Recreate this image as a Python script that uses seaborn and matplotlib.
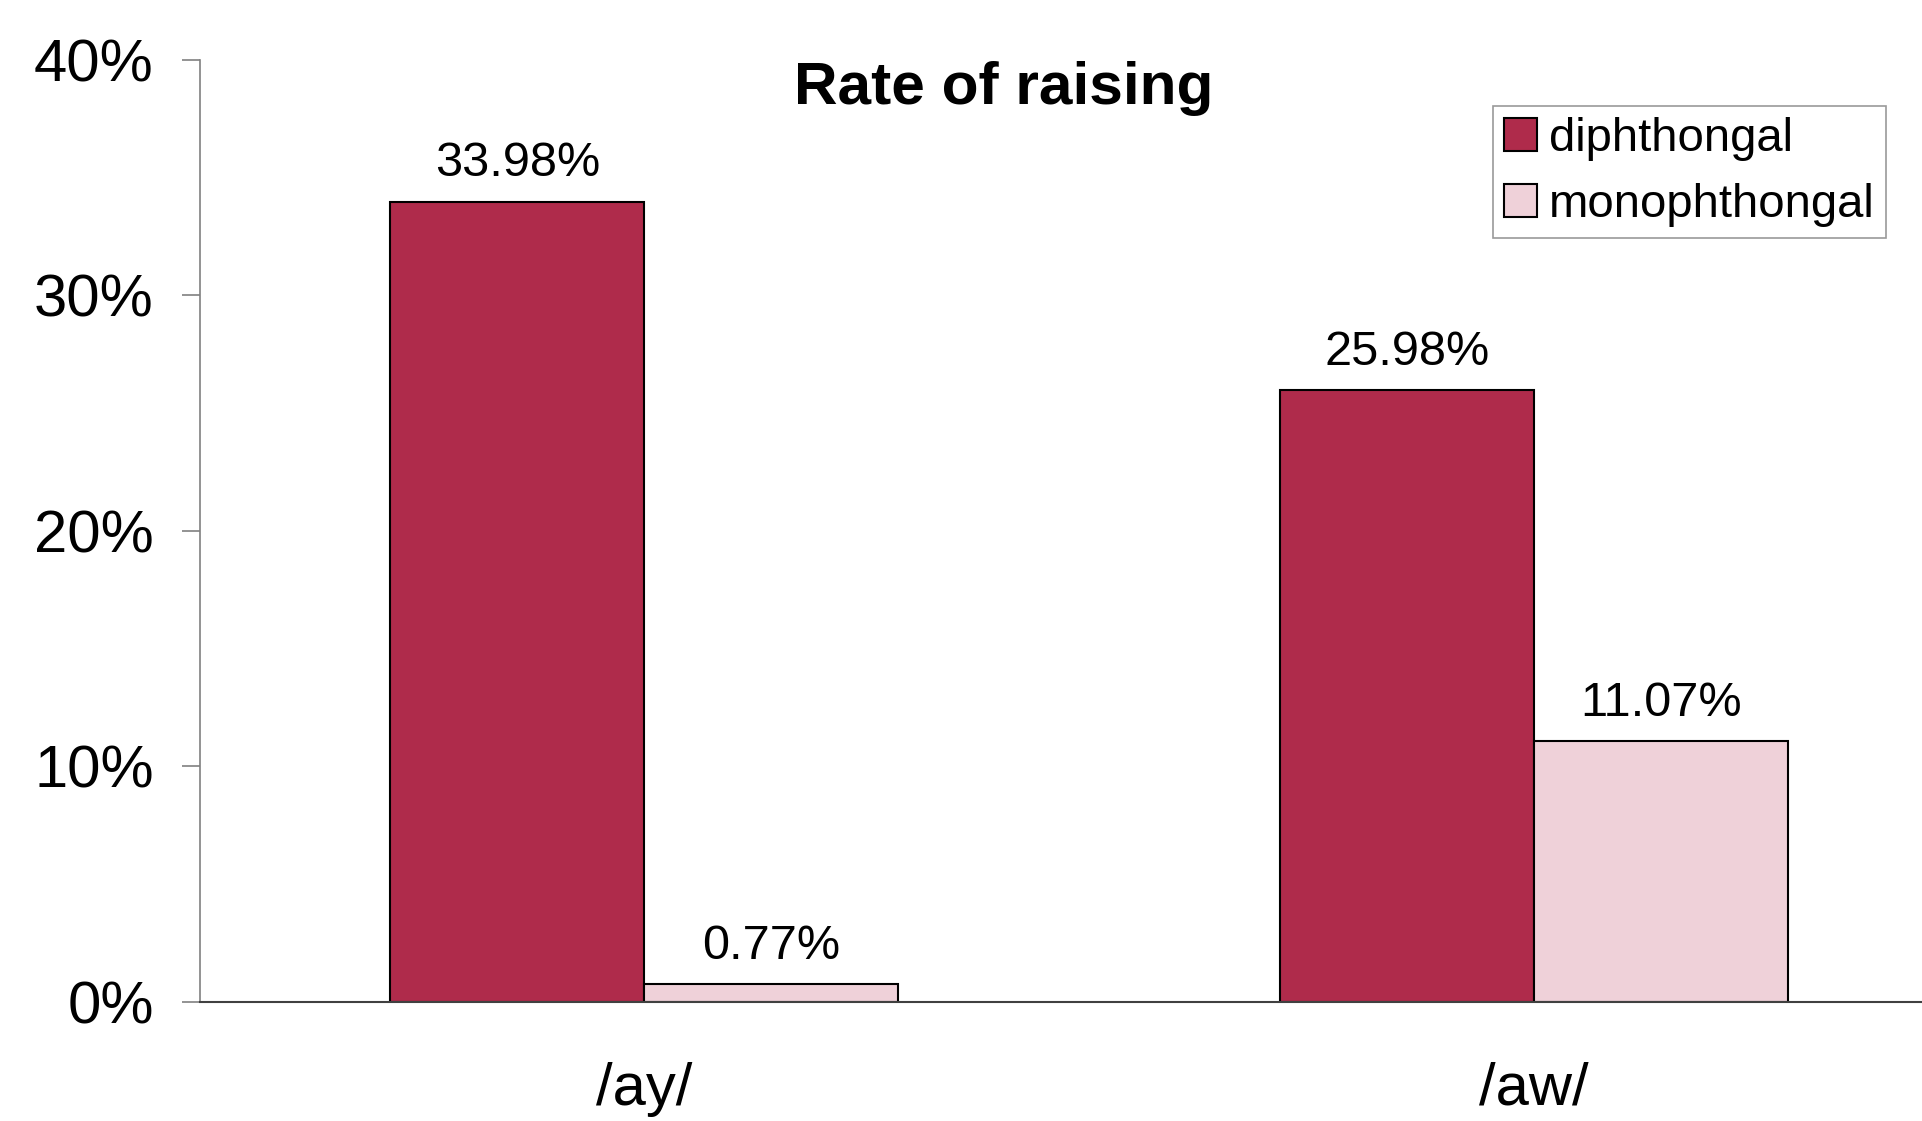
import pandas as pd
import numpy as np
import matplotlib
matplotlib.use("Agg")
import matplotlib.pyplot as plt
import seaborn as sns

# Dados
vowels = ["/ay/", "/aw/"]
series = ["diphthongal", "monophthongal"]
diph_rate = [33.98, 25.98]
mono_rate = [0.77, 11.07]
yticks = [0, 10, 20, 30, 40]

df = pd.DataFrame({
    "vowel": vowels * 2,
    "type": [series[0]] * 2 + [series[1]] * 2,
    "rate": diph_rate + mono_rate,
})

sns.set_style("white")
plt.rcParams["font.family"] = ["Liberation Sans", "DejaVu Sans"]
plt.rcParams["text.color"] = "black"
plt.rcParams["xtick.color"] = "black"
plt.rcParams["ytick.color"] = "black"

fig = plt.figure(figsize=(19.22, 11.21), dpi=100)
ax = fig.add_axes([0.1038, 0.1062, 0.8962, 0.8403])

sns.barplot(data=df, x="vowel", y="rate", hue="type", order=vowels,
            hue_order=series, palette=["#AF2B4B", "#EFD1D9"], saturation=1,
            width=0.571, edgecolor="black", linewidth=1.5, ax=ax)

for cont in ax.containers:
    ax.bar_label(cont, labels=[f"{v:.2f}%" for v in cont.datavalues],
                 padding=11, fontsize=35, color="black")

ax.set_ylim(0, 40)
ax.set_xlim(-0.5, 1.436)
ax.set_yticks(yticks)
ax.set_yticklabels([f"{t}%" for t in yticks])
ax.set_xlabel("")
ax.set_ylabel("")
ax.tick_params(axis="y", labelsize=43, length=13, width=1.2, color="#808080",
               labelcolor="black", pad=20, left=True, direction="out")
ax.tick_params(axis="x", labelsize=43, length=0, pad=43, labelcolor="black")

for s in ["top", "right"]:
    ax.spines[s].set_visible(False)
ax.spines["left"].set_color("#808080")
ax.spines["left"].set_linewidth(1.2)
ax.spines["bottom"].set_color("#404040")
ax.spines["bottom"].set_linewidth(1.5)

leg = ax.legend(loc="upper right", bbox_to_anchor=(0.979, 0.951),
                borderaxespad=0, fontsize=34, frameon=True, fancybox=False,
                handlelength=0.7, handleheight=0.7, handletextpad=0.25,
                borderpad=0.24, labelspacing=0.45)
leg.get_frame().set_edgecolor("#808080")
leg.get_frame().set_linewidth(1.2)
for t in leg.get_texts():
    t.set_color("black")

fig.text(0.522, 0.907, "Rate of raising", ha="center", va="baseline",
         fontsize=43.5, fontweight="bold", color="black")

fig.savefig("out.png", dpi=100)
